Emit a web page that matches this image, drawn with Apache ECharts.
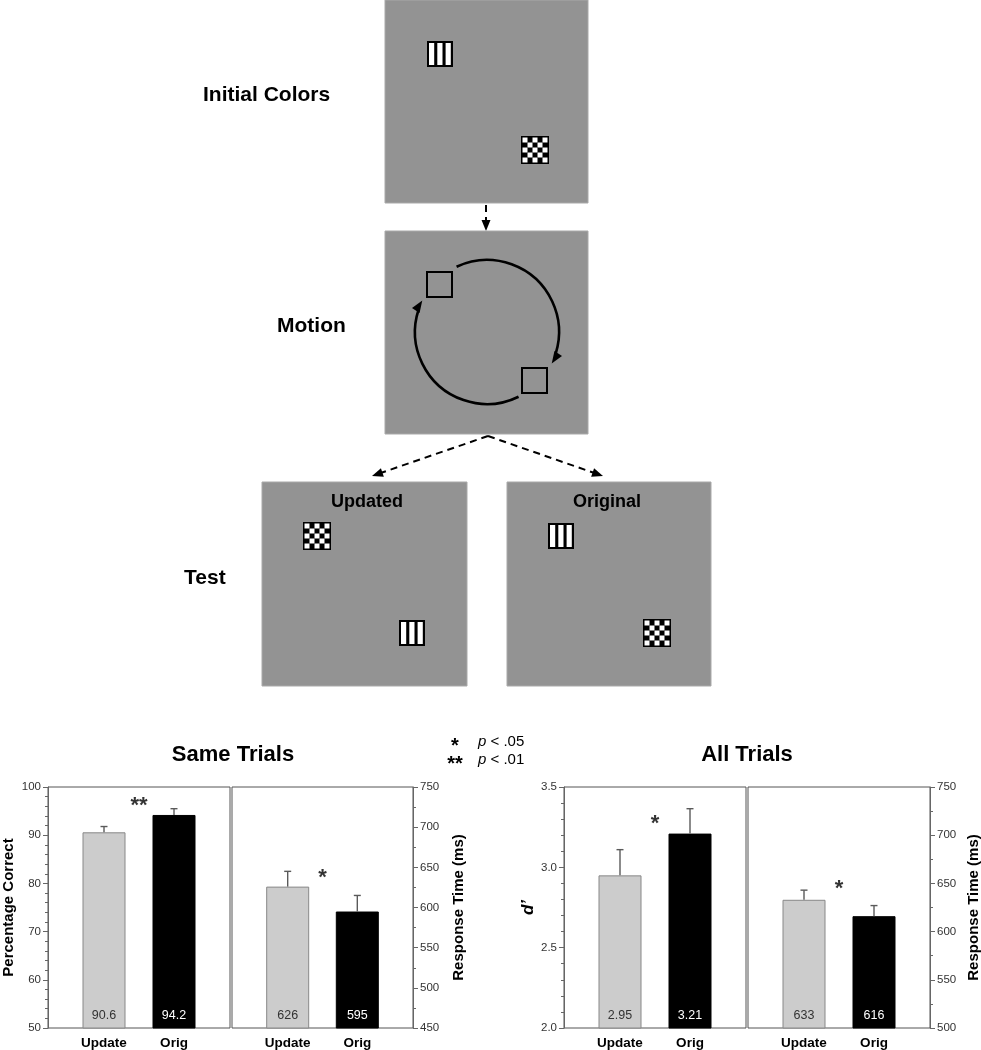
<!DOCTYPE html>
<html>
<head>
<meta charset="utf-8">
<script src="https://cdn.jsdelivr.net/npm/echarts@6/dist/echarts.min.js"></script>
<style>
  html, body { margin: 0; padding: 0; background: #fff; }
  #chart { width: 981px; height: 1050px; }
</style>
</head>
<body>
<div id="chart"></div>
<script>
// ---- data ----
const categories = ['Update', 'Orig'];
const catPos = [0, 1];
const barColors = ['#cccccc', '#000000'];
const barLabelColors = ['#333333', '#ffffff'];

const sameAcc = [90.6, 94.2];
const sameAccErr = [1.2, 1.3];
const sameRT = [626, 595];
const sameRTErr = [19, 20];

const allDprime = [2.95, 3.21];
const allDprimeErr = [0.16, 0.155];
const allRT = [633, 616];
const allRTErr = [10, 11];

// significance marks: [x, y, text] per panel
const sigSameAcc = [[0.5, 97.1, '**']];
const sigSameRT = [[0.5, 643, '*']];
const sigAllDprime = [[0.5, 3.30, '*']];
const sigAllRT = [[0.5, 649, '*']];

const FONT = '"Liberation Sans", Arial, sans-serif';

const chart = echarts.init(document.getElementById('chart'));

// ---- panel layout ----
const gridTop = 787, gridH = 241;
const grids = [
  { left: 48, top: gridTop, width: 182, height: gridH },
  { left: 232, top: gridTop, width: 181, height: gridH },
  { left: 564, top: gridTop, width: 182, height: gridH },
  { left: 748, top: gridTop, width: 182, height: gridH }
].map(g => Object.assign({
  show: true, borderColor: '#555', borderWidth: 1, backgroundColor: '#fff',
  containLabel: false, outerBoundsMode: 'none'
}, g));

const xAxes = grids.map((g, i) => ({
  type: 'value', gridIndex: i, min: -0.8, max: 1.8,
  axisLine: { show: false }, axisTick: { show: false }, splitLine: { show: false },
  axisLabel: {
    customValues: catPos, formatter: v => categories[Math.round(v)],
    fontFamily: FONT, fontWeight: 'bold', fontSize: 13.5, color: '#000', margin: 8
  }
}));

function yAxis(i, min, max, interval, minorSplit, pos, name, gap, fmt, nameStyle) {
  return {
    type: 'value', gridIndex: i, min, max, interval, position: pos,
    name, nameLocation: 'middle', nameGap: gap, nameRotate: 90,
    nameTextStyle: Object.assign({ fontFamily: FONT, fontWeight: 'bold', fontSize: 15, color: '#000' }, nameStyle || {}),
    axisLine: { show: true, onZero: false, lineStyle: { color: '#666', width: 1 } },
    axisTick: { show: true, inside: false, length: 5, lineStyle: { color: '#666' } },
    minorTick: { show: true, splitNumber: minorSplit, length: 3, lineStyle: { color: '#666' } },
    splitLine: { show: false },
    axisLabel: { fontFamily: FONT, fontSize: 11.5, color: '#333', margin: 7, formatter: fmt }
  };
}

const yAxes = [
  yAxis(0, 50, 100, 10, 5, 'left', 'Percentage Correct', 32),
  yAxis(1, 450, 750, 50, 2, 'right', 'Response Time (ms)', 38),
  yAxis(2, 2.0, 3.5, 0.5, 5, 'left', 'd’', 26, v => v.toFixed(1), { fontStyle: 'italic', fontSize: 17 }),
  yAxis(3, 500, 750, 50, 2, 'right', 'Response Time (ms)', 36)
];

function barSeries(i, vals) {
  return {
    type: 'bar', xAxisIndex: i, yAxisIndex: i, barWidth: 43,
    data: vals.map((v, k) => ({
      value: [catPos[k], v],
      itemStyle: { color: barColors[k], borderColor: k === 0 ? '#888' : '#000', borderWidth: 1 },
      label: { color: barLabelColors[k] }
    })),
    label: {
      show: true, position: 'insideBottom', distance: 6,
      fontFamily: FONT, fontSize: 12.5,
      formatter: p => String(p.value[1])
    },
    z: 2
  };
}

function errSeries(i, vals, errs) {
  return {
    type: 'custom', xAxisIndex: i, yAxisIndex: i, z: 3,
    data: vals.map((v, k) => [catPos[k], v, errs[k]]),
    renderItem: (params, api) => {
      const x = api.value(0), y = api.value(1), e = api.value(2);
      const p0 = api.coord([x, y]);
      const p1 = api.coord([x, y + e]);
      const style = { stroke: '#5a5a5a', lineWidth: 1.4 };
      return {
        type: 'group',
        children: [
          { type: 'line', shape: { x1: p0[0], y1: p0[1], x2: p1[0], y2: p1[1] }, style },
          { type: 'line', shape: { x1: p1[0] - 3.5, y1: p1[1], x2: p1[0] + 3.5, y2: p1[1] }, style }
        ]
      };
    }
  };
}

function sigSeries(i, marks) {
  return {
    type: 'scatter', xAxisIndex: i, yAxisIndex: i, symbolSize: 0,
    itemStyle: { color: 'transparent' },
    data: marks.map(m => ({ value: [m[0], m[1]], name: m[2] })),
    label: {
      show: true, position: 'inside', formatter: p => p.name, offset: [0, 5],
      fontFamily: FONT, fontSize: 22, fontWeight: 'bold', color: '#000'
    },
    z: 4
  };
}

// ---- schematic helpers (graphic elements) ----
const G = [];
function panel(x, y, w, h) {
  G.push({ type: 'rect', shape: { x, y, width: w, height: h }, style: { fill: '#939393', stroke: '#a9a9a9', lineWidth: 1 } });
}
function stripes(x, y) {
  const s = 26;
  G.push({ type: 'rect', shape: { x, y, width: s, height: s }, style: { fill: '#000' } });
  [2, 10.3, 18.6].forEach(dx => {
    G.push({ type: 'rect', shape: { x: x + dx, y: y + 2, width: 5.2, height: s - 4 }, style: { fill: '#fff' } });
  });
}
function checker(x, y) {
  const s = 28, b = 1.5, n = 5, c = (s - 2 * b) / n;
  G.push({ type: 'rect', shape: { x, y, width: s, height: s }, style: { fill: '#000' } });
  for (let r = 0; r < n; r++) for (let q = 0; q < n; q++) {
    if ((r + q) % 2 === 0) {
      G.push({ type: 'rect', shape: { x: x + b + q * c, y: y + b + r * c, width: c, height: c }, style: { fill: '#fff' } });
    }
  }
}
function emptySquare(x, y) {
  G.push({ type: 'rect', shape: { x, y, width: 25, height: 25 }, style: { fill: 'none', stroke: '#000', lineWidth: 2 } });
}
function arrowHead(tx, ty, ang, len, wid) {
  // ang: direction the arrow points to (radians)
  const bx = tx - len * Math.cos(ang), by = ty - len * Math.sin(ang);
  const nx = -Math.sin(ang) * wid / 2, ny = Math.cos(ang) * wid / 2;
  G.push({ type: 'polygon', shape: { points: [[tx, ty], [bx + nx, by + ny], [bx - nx, by - ny]] }, style: { fill: '#000' } });
}
function dashedArrow(x1, y1, x2, y2) {
  const ang = Math.atan2(y2 - y1, x2 - x1);
  const ex = x2 - 9 * Math.cos(ang), ey = y2 - 9 * Math.sin(ang);
  G.push({ type: 'line', shape: { x1, y1, x2: ex, y2: ey }, style: { stroke: '#000', lineWidth: 2, lineDash: [7, 5] } });
  arrowHead(x2, y2, ang, 11, 9);
}
function label(x, y, text, size, align) {
  G.push({ type: 'text', x, y, style: { text, fontFamily: FONT, fontWeight: 'bold', fontSize: size, fill: '#000', align: align || 'center', verticalAlign: 'middle' } });
}

// Initial colors
panel(385, 0, 203, 203);
stripes(427, 41);
checker(521, 136);
label(203, 95, 'Initial Colors', 21, 'left');
dashedArrow(486, 205, 486, 231);

// Motion
panel(385, 231, 203, 203);
emptySquare(427, 272);
emptySquare(522, 368);
const cx = 487, cy = 332, R = 72;
const deg = d => d * Math.PI / 180;
G.push({ type: 'arc', shape: { cx, cy, r: R, startAngle: deg(-115), endAngle: deg(17), clockwise: true }, style: { stroke: '#000', lineWidth: 2.6, fill: 'none' } });
G.push({ type: 'arc', shape: { cx, cy, r: R, startAngle: deg(64), endAngle: deg(198), clockwise: true }, style: { stroke: '#000', lineWidth: 2.6, fill: 'none' } });
[26, 206].forEach(a => {
  const t = deg(a);
  const tx = cx + R * Math.cos(t), ty = cy + R * Math.sin(t);
  arrowHead(tx, ty, t + Math.PI / 2 + 0.12, 12, 9);
});
label(277, 326, 'Motion', 21, 'left');

// Test
dashedArrow(488, 436, 372, 476);
dashedArrow(488, 436, 603, 476);
panel(262, 482, 205, 204);
panel(507, 482, 204, 204);
label(367, 502, 'Updated', 18);
label(607, 502, 'Original', 18);
checker(303, 522);
stripes(399, 620);
stripes(548, 523);
checker(643, 619);
label(184, 578, 'Test', 21, 'left');

// chart titles & significance legend
label(233, 755, 'Same Trials', 22);
label(747, 755, 'All Trials', 22);
G.push({ type: 'text', x: 455, y: 746, style: { text: '*', fontFamily: FONT, fontSize: 20, fontWeight: 'bold', fill: '#000', align: 'center', verticalAlign: 'middle' } });
G.push({ type: 'text', x: 455, y: 764, style: { text: '**', fontFamily: FONT, fontSize: 20, fontWeight: 'bold', fill: '#000', align: 'center', verticalAlign: 'middle' } });
G.push({ type: 'text', x: 478, y: 742, style: { text: '{i|p} < .05', rich: { i: { fontStyle: 'italic', fontFamily: FONT, fontSize: 15 } }, fontFamily: FONT, fontSize: 15, fill: '#000', verticalAlign: 'middle' } });
G.push({ type: 'text', x: 478, y: 760, style: { text: '{i|p} < .01', rich: { i: { fontStyle: 'italic', fontFamily: FONT, fontSize: 15 } }, fontFamily: FONT, fontSize: 15, fill: '#000', verticalAlign: 'middle' } });

const option = {
  animation: false,
  backgroundColor: '#fff',
  grid: grids,
  xAxis: xAxes,
  yAxis: yAxes,
  graphic: G,
  series: [
    barSeries(0, sameAcc), errSeries(0, sameAcc, sameAccErr), sigSeries(0, sigSameAcc),
    barSeries(1, sameRT), errSeries(1, sameRT, sameRTErr), sigSeries(1, sigSameRT),
    barSeries(2, allDprime), errSeries(2, allDprime, allDprimeErr), sigSeries(2, sigAllDprime),
    barSeries(3, allRT), errSeries(3, allRT, allRTErr), sigSeries(3, sigAllRT)
  ]
};
chart.setOption(option);
</script>
</body>
</html>
